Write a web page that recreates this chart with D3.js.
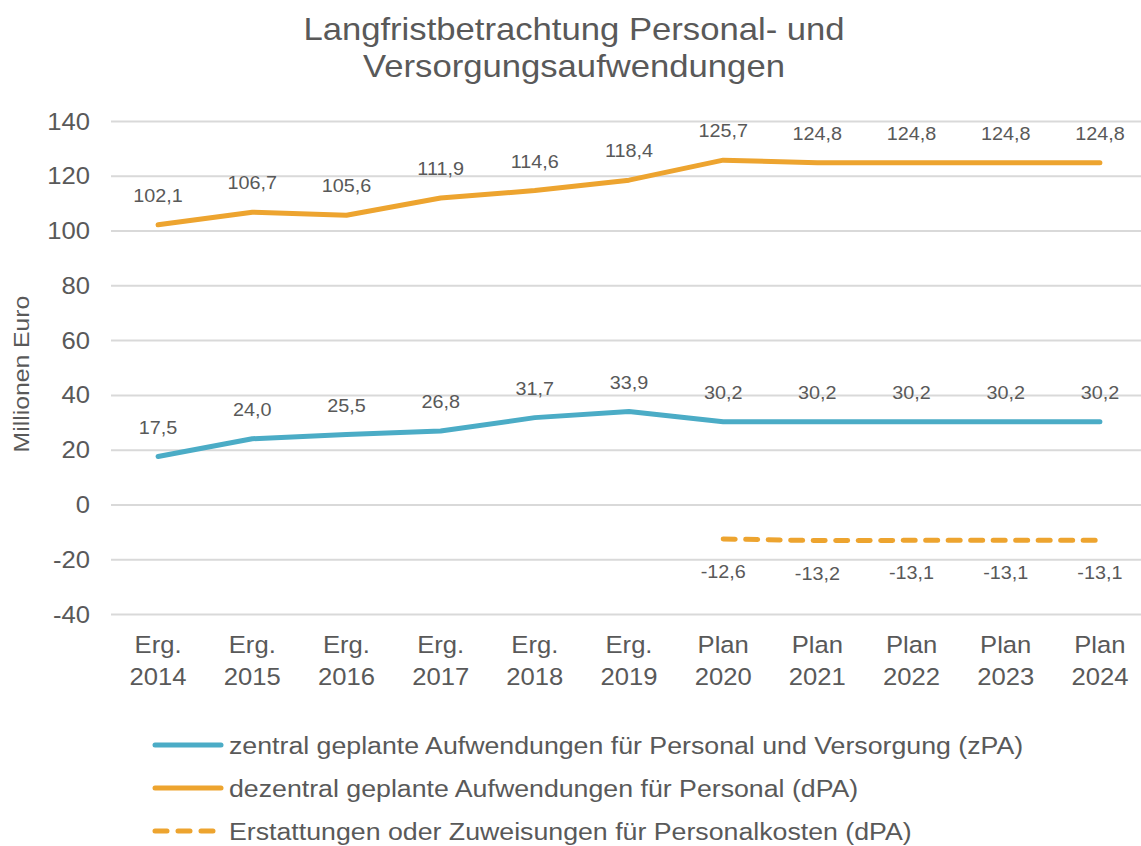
<!DOCTYPE html>
<html>
<head>
<meta charset="utf-8">
<script src="https://cdn.jsdelivr.net/npm/d3@7"></script>
<style>
  body { margin: 0; background: #fff; }
  svg text { font-family: "Liberation Sans", Arial, sans-serif; fill: #595959; }
</style>
</head>
<body>
<div id="chart"></div>
<script>
// Categories: result years (Erg.) and plan years (Plan).
var categories = [
    ["Erg.", "2014"], ["Erg.", "2015"], ["Erg.", "2016"], ["Erg.", "2017"],
    ["Erg.", "2018"], ["Erg.", "2019"], ["Plan", "2020"], ["Plan", "2021"],
    ["Plan", "2022"], ["Plan", "2023"], ["Plan", "2024"]
];

// Series values in millions of euros (null = no value).
var zpaValues = [17.5, 24.0, 25.5, 26.8, 31.7, 33.9, 30.2, 30.2, 30.2, 30.2, 30.2];
var dpaValues = [102.1, 106.7, 105.6, 111.9, 114.6, 118.4, 125.7, 124.8, 124.8, 124.8, 124.8];
var erstValues = [null, null, null, null, null, null, -12.6, -13.2, -13.1, -13.1, -13.1];

var yTicks = [-40, -20, 0, 20, 40, 60, 80, 100, 120, 140];

var seriesNames = [
    "zentral geplante Aufwendungen für Personal und Versorgung (zPA)",
    "dezentral geplante Aufwendungen für Personal (dPA)",
    "Erstattungen oder Zuweisungen für Personalkosten (dPA)"
];

var blue = "#4bacc6", orange = "#eda42f";

// The original text is slightly wider than Arial, so stretch it a bit.
var SX = 1.1;

var width = 1141, height = 846;
var svg = d3.select("#chart").append("svg")
    .attr("width", width)
    .attr("height", height);

// Put a text at (x, y), stretched horizontally by SX.
function label(parent, x, y, str, size, anchor, rotate){
    return parent.append("text")
        .attr("transform", "translate(" + x + "," + y + ")" +
            (rotate ? " rotate(" + rotate + ")" : "") + " scale(" + SX + ",1)")
        .attr("text-anchor", anchor || "middle")
        .attr("font-size", size)
        .text(str);
}

// Scales.
var x = d3.scaleBand()
    .domain(categories.map(function(c){ return c[1]; }))
    .range([111, 1147]);
var y = d3.scaleLinear()
    .domain([-40, 140])
    .range([614, 121]);
var cx = function(i){ return x(categories[i][1]) + x.bandwidth() / 2; };

// Title.
label(svg, 574, 40, "Langfristbetrachtung Personal- und", 31.5);
label(svg, 574, 77, "Versorgungsaufwendungen", 31.5);

// Gridlines via the axis generator; tick labels drawn by hand so they stretch.
var yAxis = svg.append("g")
    .attr("transform", "translate(111,0)")
    .call(d3.axisLeft(y).tickValues(yTicks).tickSize(-1036).tickFormat(""));
yAxis.select(".domain").remove();
yAxis.selectAll("line").attr("stroke", "#d9d9d9").attr("stroke-width", 2);

var tickG = svg.append("g");
yTicks.forEach(function(t){
    label(tickG, 90, y(t) + 8.5, t < 0 ? "-" + Math.abs(t) : String(t), 23.3, "end");
});

// Y axis label.
label(svg, 29, 374, "Millionen Euro", 22.5, "middle", -90);

// X category labels (two lines).
var xg = svg.append("g");
categories.forEach(function(c, i){
    label(xg, cx(i), 653, c[0], 23.3);
    label(xg, cx(i), 685, c[1], 23.3);
});

// Lines.
var line = d3.line()
    .defined(function(d){ return d != null; })
    .x(function(d, i){ return cx(i); })
    .y(function(d){ return y(d); });

var fmt = function(v){
    var s = Math.abs(v).toFixed(1).replace(".", ",");
    return v < 0 ? "-" + s : s;
};

function drawSeries(values, color, dash, labelDy){
    svg.append("path")
        .datum(values)
        .attr("fill", "none")
        .attr("stroke", color)
        .attr("stroke-width", 5)
        .attr("stroke-linecap", "round")
        .attr("stroke-linejoin", "round")
        .attr("stroke-dasharray", dash)
        .attr("d", line);

    var g = svg.append("g");
    values.forEach(function(v, i){
        if (v == null) return;
        label(g, cx(i), y(v) + labelDy, fmt(v), 18);
    });
}

drawSeries(zpaValues, blue, null, -23);
drawSeries(dpaValues, orange, null, -23);
drawSeries(erstValues, orange, "12,10.5", 39);

// Legend.
var legend = svg.append("g").selectAll("g")
    .data(seriesNames)
    .enter().append("g")
    .attr("transform", function(d, i){ return "translate(0," + (745 + i * 43) + ")"; });
legend.append("line")
    .attr("x1", 155)
    .attr("x2", function(d, i){ return i == 2 ? 214 : 221; })
    .attr("stroke", function(d, i){ return i == 0 ? blue : orange; })
    .attr("stroke-width", 5)
    .attr("stroke-linecap", "round")
    .attr("stroke-dasharray", function(d, i){ return i == 2 ? "12,11" : null; });
legend.each(function(d){
    label(d3.select(this), 229, 8.5, d, 24.3, "start");
});
</script>
</body>
</html>
